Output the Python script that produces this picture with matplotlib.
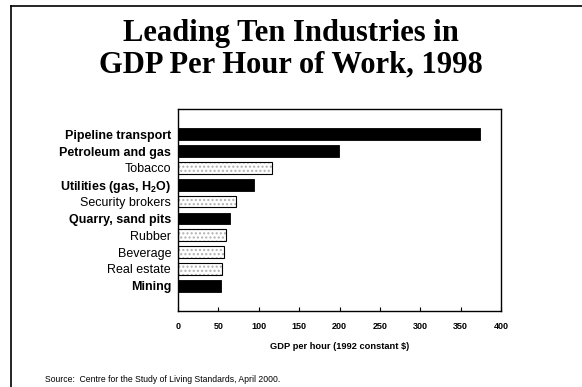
import matplotlib.pyplot as plt
from matplotlib.lines import Line2D

industries = ['Pipeline transport', 'Petroleum and gas', 'Tobacco',
              'Utilities (gas, H$_{\\mathbf{2}}$O)', 'Security brokers',
              'Quarry, sand pits', 'Rubber', 'Beverage', 'Real estate', 'Mining']
gdp_hour = [374, 199, 117, 94, 72, 65, 59, 57, 55, 53]
is_primary = [True, True, False, True, False, True, False, False, False, True]
xticks = [0, 50, 100, 150, 200, 250, 300, 350, 400]

plt.rcParams['font.family'] = 'Liberation Sans'
plt.rcParams['mathtext.fontset'] = 'custom'
plt.rcParams['mathtext.rm'] = 'Liberation Sans'
plt.rcParams['mathtext.bf'] = 'Liberation Sans:bold'

W, H = 582, 387
fig = plt.figure(figsize=(W / 100, H / 100), dpi=100)

# axes box in pixels: left 178, right 501, top 109, bottom 311
ax = fig.add_axes([178 / W, 1 - 311 / H, (501 - 178) / W, (311 - 109) / H])

ypos = list(range(len(industries) - 1, -1, -1))
for y, v, prim in zip(ypos, gdp_hour, is_primary):
    if prim:
        ax.barh(y, v, height=0.7, color='black', edgecolor='black', linewidth=0.6)
    else:
        ax.barh(y, v, height=0.7, color='white', edgecolor='#b0b0b0',
                hatch='....', linewidth=0)
        ax.barh(y, v, height=0.7, fill=False, edgecolor='black', linewidth=0.8)

ax.set_xlim(0, 400)
ax.set_ylim(-1.5, 10.5)
ax.set_xticks(xticks)
ax.set_xticklabels([str(t) for t in xticks], fontsize=6.5, fontweight='bold')
ax.tick_params(axis='x', direction='in', length=3, width=0.8, pad=8)
ax.set_yticks(ypos)
ax.set_yticklabels(industries, fontsize=9)
for lab, prim in zip(ax.get_yticklabels(), is_primary):
    lab.set_fontweight('bold' if prim else 'normal')
ax.tick_params(axis='y', length=0, pad=5)
for s in ax.spines.values():
    s.set_linewidth(1.0)
ax.set_xlabel('GDP per hour (1992 constant $)', fontsize=6.7, fontweight='bold', labelpad=8)

fig.text(291 / W, 1 - 34 / H, 'Leading Ten Industries in', ha='center', va='center',
         fontsize=22, fontweight='bold', family='Liberation Serif')
fig.text(291 / W, 1 - 65 / H, 'GDP Per Hour of Work, 1998', ha='center', va='center',
         fontsize=22, fontweight='bold', family='Liberation Serif')

fig.text(45 / W, 1 - 379 / H, 'Source:  Centre for the Study of Living Standards, April 2000.',
         ha='left', va='center', fontsize=6.2)

# slide border
fig.add_artist(Line2D([11 / W, 11 / W], [0, 1 - 6 / H], color='black', lw=1.2,
                      transform=fig.transFigure))
fig.add_artist(Line2D([11 / W, 1], [1 - 6 / H, 1 - 6 / H], color='black', lw=1.2,
                      transform=fig.transFigure))

fig.savefig('out.png', dpi=100)
